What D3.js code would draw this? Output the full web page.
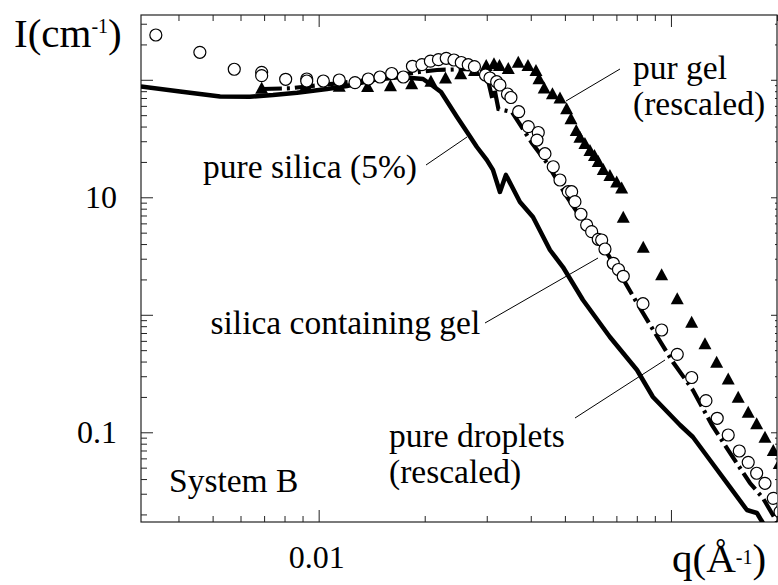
<!DOCTYPE html>
<html><head><meta charset="utf-8">
<script src="https://cdn.jsdelivr.net/npm/d3@7"></script>
<style>
html,body{margin:0;padding:0;background:#fff;}
svg{display:block;}
text{font-family:"Liberation Serif","Times New Roman",serif;fill:#000;}
</style></head><body>
<svg id="chart" width="778" height="585"></svg>
<script>
// ---------- data (q in 1/Å, I in 1/cm) ----------
// pure silica (5%) : solid line
const silicaQ = [0.00313,0.00404,0.00525,0.00638,0.00742,0.00868,0.01056,0.01203,0.01426,0.0170,0.01978,0.02111,0.02225,0.0247,0.02637,0.02813,0.0300,0.03124,0.0327,0.0340,0.03727,0.04058,0.04535,0.04936,0.05626,0.0671,0.0801,0.0889,0.1061,0.1154,0.129,0.1471,0.1643,0.1754,0.1824];
const silicaI = [87.7,79.5,72.1,71.8,74.2,77.6,83.5,88.6,99.6,105.6,101.6,88.6,78.7,48.3,35.9,26.8,20.8,17.1,11.1,15.5,9.12,6.80,3.56,2.55,1.336,0.647,0.339,0.1997,0.1154,0.0912,0.0581,0.0342,0.0218,0.02056,0.0169];

// silica containing gel : open circles
const gelQ = [0.00345,0.00460,0.00576,0.00689,0.00689,0.00806,0.00925,0.00925,0.01031,0.01144,0.01268,0.01383,0.01493,0.01612,0.01739,0.01846,0.01964,0.02076,0.02188,0.02302,0.02421,0.0254,0.02658,0.02768,0.02975,0.03064,0.03201,0.0327,0.03435,0.03514,0.03696,0.03936,0.04201,0.04166,0.04389,0.04633,0.04842,0.0511,0.05225,0.05339,0.05553,0.05764,0.05955,0.06218,0.06358,0.06497,0.06859,0.07096,0.07322,0.08328,0.0941,0.1042,0.1145,0.1257,0.1353,0.1454,0.1563,0.1657,0.1751,0.1849,0.1952,0.204];
const gelI = [240.6,171.4,122.9,115.8,108.4,101.0,101.6,97.7,97.7,99.6,94.5,101.6,105.6,113.1,105.6,130.3,134.7,144.0,148.3,152.4,147.4,140.4,134.4,129.3,109.9,103.6,96.3,90.3,75.7,70.7,53.5,39.9,35.6,30.7,23.5,18.2,14.04,11.16,11.16,9.18,7.17,5.81,5.10,4.39,4.33,3.63,2.744,2.43,2.127,1.243,0.742,0.461,0.2927,0.1858,0.1316,0.0948,0.0693,0.0555,0.0448,0.0368,0.0274,0.021];

// pur gel (rescaled) : filled triangles
const purGelQ = [0.00689,0.0092,0.01144,0.01377,0.01599,0.01837,0.02083,0.02291,0.02531,0.02768,0.0299,0.03145,0.0326,0.03453,0.03686,0.03928,0.04139,0.04221,0.04367,0.04609,0.04842,0.05057,0.05202,0.05384,0.05516,0.05699,0.0589,0.06066,0.06218,0.06425,0.0671,0.07013,0.07246,0.07322,0.08345,0.0941,0.1042,0.1145,0.1249,0.1348,0.1454,0.1552,0.1657,0.1751,0.1849,0.1952,0.203];
const purGelI = [85.7,90.3,89.1,88.6,89.8,93.4,98.1,104.6,113.6,121.2,133.6,138.2,133.6,126.0,142.6,133.6,121.2,103.0,86.0,76.8,70.7,57.2,47.0,37.4,32.8,29.0,25.3,22.9,20.4,17.4,15.5,13.6,12.1,6.84,3.80,2.211,1.382,0.874,0.572,0.399,0.287,0.2009,0.1497,0.1193,0.0918,0.0707,0.0548];

// pure droplets (rescaled) : thick dash-dot line
const dropQ = [0.0069,0.00829,0.00957,0.0140,0.0170,0.0195,0.02167,0.02689,0.02946,0.03024,0.03113,0.03155,0.03238,0.03538,0.04031,0.04446,0.05068,0.05813,0.06582,0.07259,0.0801,0.0901,0.1013,0.1154,0.1307,0.1471,0.1676,0.1824,0.200];
const dropI = [83.5,84.7,88.6,100,110,117,121.2,123.6,116.5,99.6,68.6,83.5,56.4,53.2,29.0,19.6,10.06,5.48,3.357,2.098,1.26,0.700,0.3965,0.229,0.1154,0.0667,0.037,0.0276,0.01724];

// tick labels
const yTickValues = [10, 0.1];
const yTickText = ["10", "0.1"];
const xTickValues = [0.01];
const xTickText = ["0.01"];

// ---------- layout ----------
const plot = {left:141, right:777, top:15, bottom:522};
const svg = d3.select("#chart");
const x = d3.scaleLog().domain([0.003131, 0.2]).range([plot.left, plot.right]);
const y = d3.scaleLog().domain([0.01724, 356]).range([plot.bottom, plot.top]);

function logTicks(dom){
  const out=[];
  for(let e=-4;e<=3;e++){
    for(let k=1;k<=9;k++){
      const v=k*Math.pow(10,e);
      if(v>=dom[0]*0.9999 && v<=dom[1]*1.0001) out.push({v, major:k===1});
    }
  }
  return out;
}
const xt = logTicks(x.domain()), yt = logTicks(y.domain());
const xMaj = xt.filter(d=>d.major).map(d=>d.v), xMin = xt.filter(d=>!d.major).map(d=>d.v);
const yMaj = yt.filter(d=>d.major).map(d=>d.v), yMin = yt.filter(d=>!d.major).map(d=>d.v);

function addAxis(axisGen, vals, size, tx, ty){
  const g = svg.append("g").attr("transform",`translate(${tx},${ty})`)
    .call(axisGen.tickValues(vals).tickSize(size).tickFormat(""));
  g.select(".domain").remove();
  g.selectAll(".tick line").attr("stroke","#222").attr("stroke-width",1);
  return g;
}
addAxis(d3.axisBottom(x), xMaj, -12, 0, plot.bottom);
addAxis(d3.axisBottom(x), xMin, -6, 0, plot.bottom);
addAxis(d3.axisTop(x), xMaj, -12, 0, plot.top);
addAxis(d3.axisTop(x), xMin, -6, 0, plot.top);
addAxis(d3.axisLeft(y), yMaj, -12, plot.left, 0);
addAxis(d3.axisLeft(y), yMin, -6, plot.left, 0);
addAxis(d3.axisRight(y), yMaj, -6, plot.right, 0);
addAxis(d3.axisRight(y), yMin, -2, plot.right, 0);

svg.append("rect").attr("x",plot.left).attr("y",plot.top)
  .attr("width",plot.right-plot.left).attr("height",plot.bottom-plot.top)
  .attr("fill","none").attr("stroke","#222").attr("stroke-width",1.2);

svg.selectAll(".ylab").data(yTickValues).enter().append("text")
  .attr("x",117).attr("y",d=>y(d)+11).attr("text-anchor","end")
  .attr("font-size",32).text((d,i)=>yTickText[i]);
svg.selectAll(".xlab").data(xTickValues).enter().append("text")
  .attr("x",d=>x(d)-2).attr("y",568).attr("text-anchor","middle")
  .attr("font-size",32).text((d,i)=>xTickText[i]);

const yt1 = svg.append("text").attr("x",14).attr("y",47).attr("font-size",41);
yt1.append("tspan").text("I(cm");
yt1.append("tspan").attr("dy",-14).attr("font-size",20).text("-1");
yt1.append("tspan").attr("dy",14).text(")");
const xt1 = svg.append("text").attr("x",672).attr("y",572).attr("font-size",41);
xt1.append("tspan").text("q(Å");
xt1.append("tspan").attr("dy",-8).attr("font-size",20).text("-1");
xt1.append("tspan").attr("dy",8).text(")");

svg.append("clipPath").attr("id","clip").append("rect")
  .attr("x",plot.left).attr("y",plot.top)
  .attr("width",plot.right-plot.left).attr("height",plot.bottom-plot.top);
const data = svg.append("g").attr("clip-path","url(#clip)");

const line = d3.line().x(d=>x(d[0])).y(d=>y(d[1]));
data.append("path").datum(d3.zip(silicaQ,silicaI)).attr("d",line)
  .attr("fill","none").attr("stroke","#000").attr("stroke-width",4.5).attr("stroke-linejoin","round");
data.append("path").datum(d3.zip(dropQ,dropI)).attr("d",line)
  .attr("fill","none").attr("stroke","#000").attr("stroke-width",4.2)
  .attr("stroke-dasharray","20,5,3,5");

const triW=13, triH=12;
data.selectAll(".tri").data(d3.zip(purGelQ,purGelI)).enter().append("path")
  .attr("transform",d=>`translate(${x(d[0])},${y(d[1])})`)
  .attr("d",`M0,${-triH/2}L${triW/2},${triH/2}L${-triW/2},${triH/2}Z`)
  .attr("fill","#000");
data.selectAll(".circ").data(d3.zip(gelQ,gelI)).enter().append("circle")
  .attr("cx",d=>x(d[0])).attr("cy",d=>y(d[1])).attr("r",6)
  .attr("fill","#fff").attr("stroke","#000").attr("stroke-width",1.2);

const annFont = 33.5;
const labels = [
  {t:"pure silica (5%)", x:203, y:178},
  {t:"silica containing gel", x:210.5, y:334},
  {t:"pure droplets", x:389, y:447},
  {t:"(rescaled)", x:389, y:483},
  {t:"pur gel", x:633, y:79},
  {t:"(rescaled)", x:633, y:115},
  {t:"System B", x:169, y:492}
];
svg.selectAll(".ann").data(labels).enter().append("text")
  .attr("x",d=>d.x).attr("y",d=>d.y).attr("font-size",annFont).text(d=>d.t);
const leaders = [
  [426,165,467,137],
  [485,323,598,258],
  [575,418,665,360],
  [566,101,620,69]
];
svg.selectAll(".lead").data(leaders).enter().append("line")
  .attr("x1",d=>d[0]).attr("y1",d=>d[1]).attr("x2",d=>d[2]).attr("y2",d=>d[3])
  .attr("stroke","#000").attr("stroke-width",1);
</script>
</body></html>
